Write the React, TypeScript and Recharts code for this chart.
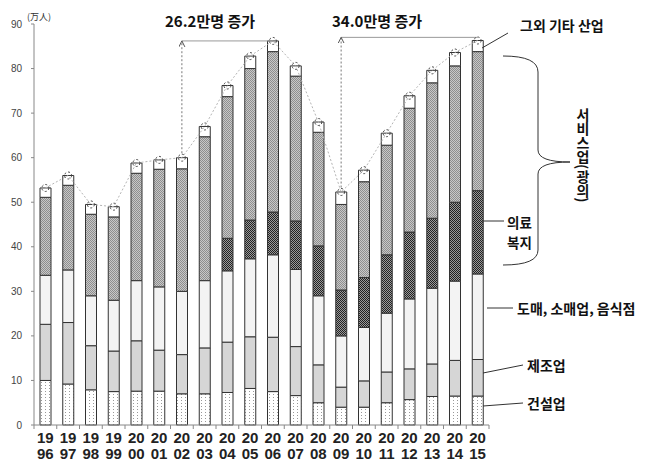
import React from 'react'
import {
  ComposedChart,
  Bar,
  Line,
  XAxis,
  YAxis,
  ReferenceLine,
} from 'recharts'

// 연도
const years = [
  '1996', '1997', '1998', '1999', '2000', '2001', '2002', '2003', '2004', '2005',
  '2006', '2007', '2008', '2009', '2010', '2011', '2012', '2013', '2014', '2015',
]

// 만명 단위, 아래에서 위로 쌓이는 순서
const construction = [10.0, 9.2, 7.9, 7.5, 7.6, 7.6, 7.0, 7.0, 7.3, 8.2, 7.5, 6.6, 5.0, 4.0, 4.0, 5.0, 5.7, 6.4, 6.5, 6.5]
const manufacturing = [12.6, 13.8, 9.9, 9.1, 11.3, 9.2, 8.8, 10.3, 11.3, 11.6, 12.2, 11.0, 8.5, 4.5, 5.9, 6.9, 6.9, 7.3, 8.0, 8.2]
const wholesale = [11.0, 11.8, 11.2, 11.4, 13.5, 14.2, 14.2, 15.1, 16.0, 17.5, 18.5, 17.3, 15.5, 11.5, 12.0, 13.2, 15.7, 17.0, 17.8, 19.2]
const welfare = [0, 0, 0, 0, 0, 0, 0, 0, 7.3, 8.7, 9.6, 10.9, 11.2, 10.3, 11.2, 13.1, 15.0, 15.7, 17.7, 18.7]
const services = [17.5, 19.0, 18.3, 18.7, 24.1, 26.4, 27.5, 32.3, 31.8, 34.0, 36.0, 32.5, 25.5, 19.2, 21.5, 24.6, 27.8, 30.4, 30.6, 31.2]
const others = [2.1, 2.2, 2.2, 2.3, 2.3, 2.1, 2.5, 2.3, 2.5, 2.8, 2.4, 2.3, 2.3, 2.8, 2.6, 2.7, 2.8, 2.8, 3.0, 2.5]

const yTicks = [0, 10, 20, 30, 40, 50, 60, 70, 80, 90]

const data = years.map((year, i) => ({
  year,
  construction: construction[i],
  manufacturing: manufacturing[i],
  wholesale: wholesale[i],
  welfare: welfare[i],
  services: services[i],
  others: others[i],
  total:
    construction[i] + manufacturing[i] + wholesale[i] + welfare[i] + services[i] + others[i],
}))

const totalOf = (y: string) => data.find(d => d.year === y)!.total

const CHART_W = 648
const CHART_H = 471
const PLOT_LEFT = 34
const PLOT_RIGHT = 489
const BAND = (PLOT_RIGHT - PLOT_LEFT) / years.length

const KR = '"Noto Sans CJK KR", "Noto Sans", sans-serif'
const NUM = '"Liberation Sans", Arial, sans-serif'

const YearTick = (props: any) => {
  const { x, y, payload, index } = props
  const v: string = payload.value
  return (
    <g>
      <line x1={x - BAND / 2} y1={y} x2={x - BAND / 2} y2={y + 4} stroke="#888" />
      {index === years.length - 1 && (
        <line x1={x + BAND / 2} y1={y} x2={x + BAND / 2} y2={y + 4} stroke="#888" />
      )}
      <text
        x={x}
        textAnchor="middle"
        fontFamily={NUM}
        fontWeight="bold"
        fontSize={15}
        fill="#222"
      >
        <tspan x={x} y={y + 18}>{v.slice(0, 2)}</tspan>
        <tspan x={x} y={y + 34}>{v.slice(2)}</tspan>
      </text>
    </g>
  )
}

const arrowShape = (p: any) => (
  <line
    x1={p.x1}
    y1={p.y1}
    x2={p.x2}
    y2={p.y2}
    stroke="#777"
    strokeWidth={1}
    strokeDasharray="2 2"
    markerEnd="url(#arrowUp)"
  />
)

export default function App() {
  return (
    <div style={{ position: 'absolute', left: 0, top: 0, width: CHART_W, height: CHART_H, background: '#fff' }}>
      <ComposedChart
        width={CHART_W}
        height={CHART_H}
        data={data}
        margin={{ top: 24, right: CHART_W - PLOT_RIGHT, bottom: 6, left: 0 }}
        barSize={11}
      >
        <defs>
          <pattern id="dots" width="4" height="3" patternUnits="userSpaceOnUse">
            <rect width="4" height="3" fill="#fff" />
            <rect x="1" y="1" width="1" height="1" fill="#999" />
          </pattern>
          <pattern id="darkCheck" width="2" height="2" patternUnits="userSpaceOnUse">
            <rect width="2" height="2" fill="#9a9a9a" />
            <rect x="0" y="0" width="1" height="1" fill="#222" />
            <rect x="1" y="1" width="1" height="1" fill="#222" />
          </pattern>
          <pattern id="grayCheck" width="2" height="2" patternUnits="userSpaceOnUse">
            <rect width="2" height="2" fill="#c8c8c8" />
            <rect x="0" y="0" width="1" height="1" fill="#8e8e8e" />
            <rect x="1" y="1" width="1" height="1" fill="#8e8e8e" />
          </pattern>
          <marker
            id="arrowUp"
            markerWidth="8"
            markerHeight="8"
            refX="6"
            refY="3"
            orient="auto"
            markerUnits="userSpaceOnUse"
          >
            <path d="M0,0 L6,3 L0,6" fill="none" stroke="#555" strokeWidth={1} />
          </marker>
        </defs>
        <XAxis
          dataKey="year"
          interval={0}
          height={40}
          axisLine={{ stroke: '#888' }}
          tickLine={false}
          tickSize={0}
          tickMargin={0}
          tick={<YearTick />}
        />
        <YAxis
          domain={[0, 90]}
          ticks={yTicks}
          width={PLOT_LEFT}
          axisLine={{ stroke: '#888' }}
          tickLine={{ stroke: '#888' }}
          tickSize={3}
          tickMargin={9}
          tick={{ fontSize: 10, fill: '#444', fontFamily: NUM }}
          interval={0}
        />
        <Bar dataKey="construction" stackId="a" fill="url(#dots)" stroke="#333" strokeWidth={1} isAnimationActive={false} />
        <Bar dataKey="manufacturing" stackId="a" fill="#d6d6d6" stroke="#333" strokeWidth={1} isAnimationActive={false} />
        <Bar dataKey="wholesale" stackId="a" fill="#f3f3f3" stroke="#333" strokeWidth={1} isAnimationActive={false} />
        <Bar dataKey="welfare" stackId="a" fill="url(#darkCheck)" stroke="#333" strokeWidth={1} isAnimationActive={false} />
        <Bar dataKey="services" stackId="a" fill="url(#grayCheck)" stroke="#333" strokeWidth={1} isAnimationActive={false} />
        <Bar dataKey="others" stackId="a" fill="#fff" stroke="#333" strokeWidth={1} isAnimationActive={false} />
        <Line
          dataKey="total"
          type="linear"
          stroke="#b5b5b5"
          strokeWidth={1}
          strokeDasharray="2 2"
          dot={{ r: 3.5, fill: 'none', stroke: '#444', strokeWidth: 1 }}
          isAnimationActive={false}
        />
        {/* 26.2만명 증가 */}
        <ReferenceLine
          segment={[{ x: '2002', y: totalOf('2006') }, { x: '2006', y: totalOf('2006') }]}
          stroke="#999"
        />
        <ReferenceLine
          segment={[{ x: '2002', y: totalOf('2002') + 1 }, { x: '2002', y: totalOf('2006') }]}
          shape={arrowShape}
        />
        {/* 34.0만명 증가 */}
        <ReferenceLine
          segment={[{ x: '2009', y: totalOf('2015') + 0.7 }, { x: '2015', y: totalOf('2015') + 0.7 }]}
          stroke="#999"
        />
        <ReferenceLine
          segment={[{ x: '2009', y: totalOf('2009') + 1 }, { x: '2009', y: totalOf('2015') + 0.7 }]}
          shape={arrowShape}
        />
      </ComposedChart>

      {/* 주석 */}
      <svg
        width={CHART_W}
        height={CHART_H}
        style={{ position: 'absolute', left: 0, top: 0, pointerEvents: 'none' }}
      >
        <text x={27} y={16} fontSize={9} fontFamily={KR} fill="#333" dominantBaseline="central">(万人)</text>
        <text x={165} y={20} fontSize={15} fontFamily={KR} fontWeight="bold" fill="#111" dominantBaseline="central">26.2만명 증가</text>
        <text x={332} y={20} fontSize={15} fontFamily={KR} fontWeight="bold" fill="#111" dominantBaseline="central">34.0만명 증가</text>
        <text x={520} y={25} fontSize={14} fontFamily={KR} fontWeight="bold" fill="#111" dominantBaseline="central">그외 기타 산업</text>
        <line x1={482} y1={48} x2={508} y2={33} stroke="#333" />

        <path
          d="M503,56 Q538,56 538,72 L538,150 Q538,162 570,162 Q538,162 538,174 L538,250 Q538,265 503,265"
          fill="none"
          stroke="#333"
          strokeWidth={1}
        />

        <text x={507} y={222} fontSize={13.5} fontFamily={KR} fontWeight="bold" fill="#111" dominantBaseline="central">의료</text>
        <text x={507} y={242} fontSize={13.5} fontFamily={KR} fontWeight="bold" fill="#111" dominantBaseline="central">복지</text>
        <line x1={482} y1={221} x2={504} y2={221} stroke="#333" />

        <text x={517} y={308} fontSize={14} fontFamily={KR} fontWeight="bold" fill="#111" dominantBaseline="central">도매, 소매업, 음식점</text>
        <line x1={487} y1={308} x2={513} y2={308} stroke="#333" />

        <text x={527} y={365} fontSize={14} fontFamily={KR} fontWeight="bold" fill="#111" dominantBaseline="central">제조업</text>
        <line x1={483} y1={373} x2={523} y2={365} stroke="#333" />

        <text x={527} y={403} fontSize={14} fontFamily={KR} fontWeight="bold" fill="#111" dominantBaseline="central">건설업</text>
        <line x1={483} y1={406} x2={523} y2={403} stroke="#333" />
      </svg>
      <div
        style={{
          position: 'absolute',
          left: 574,
          top: 108,
          writingMode: 'vertical-rl',
          fontFamily: KR,
          fontWeight: 'bold',
          fontSize: 14,
          color: '#111',
          lineHeight: '18px',
        }}
      >
        서비스업(광의)
      </div>
    </div>
  )
}
